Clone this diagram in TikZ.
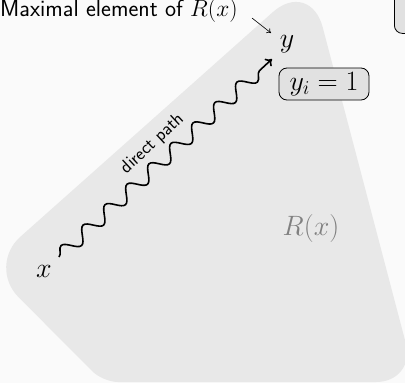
\RequirePackage{fix-cm}
\documentclass[tikz,border=0pt]{standalone}
\usetikzlibrary{decorations.pathmorphing,arrows.meta}
\begin{document}
\begin{tikzpicture}[x=1pt,y=-1pt,
  mathlbl/.style={font=\fontsize{28}{32}\selectfont, inner sep=0pt},
  wavy/.style={line width=1.6pt, decorate, decoration={snake, amplitude=7pt, segment length=30pt, post length=7pt}},
  ybox/.style={draw, line width=0.8pt, rounded corners=8pt, fill=boxfill, inner sep=0pt, minimum width=90pt, minimum height=32pt}
]
\definecolor{bg}{RGB}{250,250,250}
\definecolor{region}{RGB}{232,232,232}
\definecolor{boxfill}{RGB}{225,225,225}
\definecolor{rlabel}{RGB}{128,128,128}
\useasboundingbox (0,0) rectangle (405,383);
\clip (0,0) rectangle (405,383);
\fill[bg] (0,0) rectangle (405,383);
\fill[region] (200,77) [rounded corners=50pt] -- (310,-21) [rounded corners=40pt] -- (416,382) [rounded corners=15pt] -- (103,382) [rounded corners=44pt] -- (-12.5,266) [rounded corners=0pt] -- cycle;

\node[anchor=base west, inner sep=0pt, font=\sffamily\fontsize{23.5}{27}\selectfont] (max) at (0,16.5) {Maximal element of $R(x)$};
\node[mathlbl, anchor=base] (y) at (287,47) {$y$};
\node[mathlbl, anchor=base] (x) at (44,277) {$x$};
\node[mathlbl, anchor=base, text=rlabel] (R) at (311,235) {$R(x)$};
\node[ybox] (yi) at (324,84) {\fontsize{28}{32}\selectfont$y_i=1$};
\node[draw, line width=0.8pt, fill=boxfill, rounded corners=8pt, minimum width=60pt, minimum height=60pt, anchor=north west] (tr) at (394,-27) {};

\coordinate (a1) at (252,18);
\coordinate (a2) at (271,33);
\draw[line width=0.6pt, -{To[length=4pt,width=6pt]}] (a1) -- (a2);

\coordinate (ws) at (59,257);
\coordinate (we) at (272,59);
\draw[wavy, -{To[length=6pt,width=10pt]}] (ws) -- (we);
\path (ws) -- (we) node[midway, sloped, above=11pt, inner sep=0pt, font=\sffamily\fontsize{18.5}{21}\selectfont] (lbl) {direct path};
\end{tikzpicture}
\end{document}
